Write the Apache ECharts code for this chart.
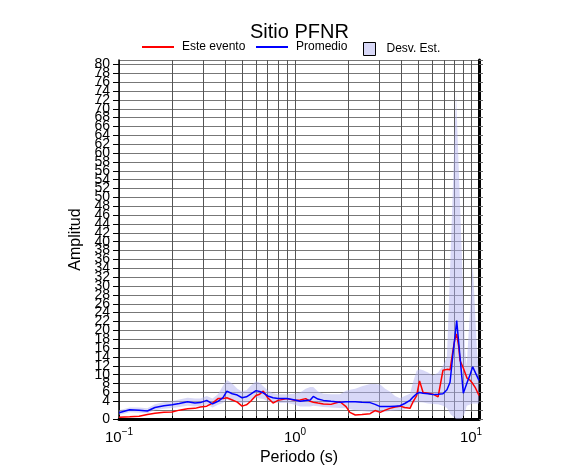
<!DOCTYPE html>
<html>
<head>
<meta charset="utf-8">
<script src="https://cdn.jsdelivr.net/npm/echarts@6/dist/echarts.min.js"></script>
<style>
  html, body { margin: 0; padding: 0; background: #fff; }
  #chart { width: 586px; height: 475px; }
</style>
</head>
<body>
<div id="chart"></div>
<script>
// periods (s) where both curves are sampled
const periods = [0.10, 0.115, 0.13, 0.145, 0.16, 0.18, 0.2, 0.22, 0.245, 0.27,
  0.29, 0.315, 0.34, 0.365, 0.39, 0.41, 0.44, 0.47, 0.5, 0.53,
  0.56, 0.6, 0.63, 0.66, 0.7, 0.75, 0.8, 0.9, 1.0, 1.07,
  1.15, 1.22, 1.27, 1.35, 1.45, 1.6, 1.8, 1.95, 2.05, 2.2,
  2.4, 2.67, 2.85, 3.05, 3.25, 3.46, 3.7, 3.95, 4.2, 4.5,
  4.7, 4.91, 5.1, 5.34, 5.7, 6.08, 6.5, 6.93, 7.3, 7.6,
  7.9, 8.1, 8.29, 8.5, 8.66, 9.04, 9.49, 9.9, 10.22, 10.6,
  11.1];

const esteEvento = [0.4, 0.5, 0.6, 1.0, 1.3, 1.5, 1.6, 2.0, 2.3, 2.4,
  2.7, 2.9, 3.6, 4.6, 4.6, 4.8, 4.3, 3.8, 2.9, 3.2,
  4.0, 5.3, 5.6, 6.3, 4.8, 3.6, 4.2, 4.6, 4.2, 4.3,
  4.6, 4.0, 3.8, 3.6, 3.4, 3.3, 3.9, 2.8, 1.5, 0.9,
  1.0, 1.2, 1.9, 1.5, 2.0, 2.4, 2.7, 2.9, 2.6, 2.4,
  4.0, 5.3, 8.6, 6.0, 5.8, 5.6, 5.0, 11.0, 11.2, 11.1,
  15.5, 18.0, 19.2, 16.5, 13.2, 11.5, 9.2, 8.7, 8.0, 7.0,
  5.3];

const promedio = [1.4, 2.1, 2.0, 1.8, 2.6, 3.0, 3.2, 3.5, 3.9, 3.6,
  3.7, 4.2, 3.4, 4.0, 4.8, 6.3, 5.7, 5.4, 4.8, 5.0,
  5.6, 6.4, 6.2, 5.9, 5.2, 4.8, 4.6, 4.6, 4.3, 4.0,
  4.2, 4.3, 5.1, 4.5, 4.2, 4.0, 3.8, 3.9, 3.9, 3.9,
  3.8, 3.7, 3.3, 2.8, 2.8, 2.8, 2.9, 3.0, 3.5, 4.2,
  5.0, 5.7, 6.0, 5.8, 5.7, 5.5, 5.6, 5.7, 6.6, 8.3,
  14.8, 18.5, 22.2, 17.5, 14.0, 5.8, 8.2, 10.1, 11.8, 10.4,
  8.7];

// standard deviation band (lower / upper edge)
const bandPeriods = [0.10, 0.115, 0.13, 0.145, 0.16, 0.18, 0.2, 0.22, 0.245, 0.27,
  0.29, 0.315, 0.34, 0.365, 0.39, 0.41, 0.44, 0.47, 0.5, 0.53,
  0.56, 0.6, 0.63, 0.66, 0.7, 0.75, 0.8, 0.9, 1.0, 1.07,
  1.15, 1.22, 1.27, 1.35, 1.45, 1.6, 1.8, 1.95, 2.05, 2.2,
  2.4, 2.67, 2.85, 3.05, 3.25, 3.46, 3.7, 3.95, 4.2, 4.5,
  4.7, 4.91, 5.1, 5.34, 5.7, 6.08, 6.5, 6.93, 7.3, 7.67,
  8.22, 8.85, 9.25, 9.45, 10.23, 10.81, 11.1];

const bandHigh = [2.0, 2.6, 2.6, 2.4, 3.3, 3.8, 4.0, 4.4, 4.8, 4.6,
  4.6, 5.2, 4.6, 5.6, 7.5, 8.8, 8.0, 6.8, 6.2, 6.5,
  7.5, 8.5, 8.2, 7.4, 6.5, 5.8, 5.6, 5.6, 5.7, 6.0,
  6.8, 7.2, 7.2, 6.2, 5.7, 5.6, 5.6, 6.4, 6.6, 6.8,
  7.4, 7.9, 7.9, 7.8, 6.8, 6.2, 5.2, 4.7, 5.2, 5.7,
  8.5, 10.9, 11.2, 11.0, 10.5, 9.8, 10.5, 12.0, 14.0, 38,
  73.5, 38, 15.5, 12, 35, 15.5, 10];

const bandLow = [0.9, 1.5, 1.4, 1.3, 2.0, 2.3, 2.5, 2.7, 3.0, 2.8,
  2.9, 3.3, 2.6, 3.2, 3.6, 4.4, 4.0, 3.9, 3.5, 3.7,
  4.2, 4.8, 4.6, 4.5, 4.0, 3.8, 3.6, 3.6, 3.2, 2.8,
  2.8, 2.8, 3.0, 2.9, 2.7, 2.6, 2.5, 2.4, 2.2, 2.0,
  1.8, 1.6, 1.5, 1.5, 1.6, 1.8, 1.9, 2.0, 2.2, 2.8,
  3.5, 3.8, 3.8, 3.7, 3.5, 3.4, 3.3, 3.0, 2.5, 1.0,
  0, 0, 1.5, 3.0, 3.5, 3.5, 3.5];

const FONT = "'Liberation Sans', Arial, Helvetica, sans-serif";
const xMin = 0.1, xMax = 11.1, yMin = 0, yMax = 81;
const bandColor = "rgba(178,178,240,0.5)";
const lineIcon = "rect";

const chart = echarts.init(document.getElementById("chart"));

const legendText = { fontFamily: FONT, fontSize: 12, color: "#000", padding: [0, 0, 0, 3] };

const option = {
  animation: false,
  backgroundColor: "#fff",
  textStyle: { fontFamily: FONT, color: "#000" },
  title: {
    text: "Sitio PFNR",
    left: 250,
    top: 22,
    padding: 0,
    textStyle: { fontFamily: FONT, fontSize: 20, fontWeight: "normal", color: "#000" },
  },
  legend: [
    {
      data: [{ name: "Este evento", icon: lineIcon }],
      left: 142, top: 41, padding: 0,
      itemWidth: 32, itemHeight: 2,
      textStyle: legendText,
      selectedMode: false,
    },
    {
      data: [{ name: "Promedio", icon: lineIcon }],
      left: 256, top: 41, padding: 0,
      itemWidth: 32, itemHeight: 2,
      textStyle: legendText,
      selectedMode: false,
    },
    {
      data: [{ name: "Desv. Est.", icon: "rect", itemStyle: { borderColor: "#000", borderWidth: 1 } }],
      left: 363, top: 42, padding: 0,
      itemWidth: 12, itemHeight: 13,
      textStyle: { fontFamily: FONT, fontSize: 12, color: "#000", padding: [0, 0, 0, 6] },
      selectedMode: false,
    },
  ],
  grid: { left: 119, right: 107, top: 60, bottom: 56, containLabel: false },
  xAxis: [
    {
      type: "log",
      logBase: 10,
      min: xMin,
      max: xMax,
      position: "bottom",
      name: "Periodo (s)",
      nameLocation: "middle",
      nameGap: 31,
      nameTextStyle: { fontFamily: FONT, fontSize: 16, color: "#000" },
      axisLine: { show: true, lineStyle: { color: "#000", width: 2 } },
      axisTick: { show: false },
      minorTick: { show: false, splitNumber: 9 },
      axisLabel: {
        margin: 8,
        formatter: (v) => {
          const e = Math.log10(v);
          if (Math.abs(e - Math.round(e)) > 1e-6) return "";
          const ex = Math.round(e);
          return "{b|10}{s|" + (ex < 0 ? "\u2212" + (-ex) : ex) + "}";
        },
        rich: {
          b: { fontFamily: FONT, fontSize: 15, color: "#000", verticalAlign: "bottom" },
          s: { fontFamily: FONT, fontSize: 10, color: "#000", verticalAlign: "top", padding: [0, 0, 8, 0] },
        },
      },
      splitLine: { show: true, lineStyle: { color: "#555", width: 1 } },
      minorSplitLine: { show: true, lineStyle: { color: "#555", width: 1 } },
    },
    {
      type: "log",
      logBase: 10,
      min: xMin,
      max: xMax,
      position: "top",
      axisLine: { show: true, lineStyle: { color: "#000", width: 3 } },
      axisTick: { show: true, inside: false, length: 7, lineStyle: { color: "#000", width: 1 } },
      minorTick: { show: true, splitNumber: 9, length: 3, lineStyle: { color: "#000", width: 1 } },
      axisLabel: { show: false },
      splitLine: { show: false },
    },
  ],
  yAxis: [
    {
      type: "value",
      min: yMin,
      max: yMax,
      interval: 2,
      position: "left",
      name: "Amplitud",
      nameLocation: "middle",
      nameGap: 30,
      nameTextStyle: { fontFamily: FONT, fontSize: 16, color: "#000" },
      axisLine: { show: true, lineStyle: { color: "#000", width: 1.5 } },
      axisTick: { show: true, inside: false, length: 6, lineStyle: { color: "#000", width: 1 } },
      axisLabel: {
        fontFamily: FONT, fontSize: 14, color: "#000", margin: 9,
        showMaxLabel: false, showMinLabel: true, hideOverlap: false, interval: 0,
      },
      splitLine: { show: true, lineStyle: { color: "#777", width: 1 } },
    },
    {
      type: "value",
      min: yMin,
      max: yMax,
      interval: 2,
      position: "right",
      alignTicks: false,
      axisLine: { show: true, lineStyle: { color: "#000", width: 3 } },
      axisTick: { show: true, inside: false, length: 4, lineStyle: { color: "#666", width: 1 } },
      axisLabel: { show: false },
      splitLine: { show: false },
    },
  ],
  series: [
    {
      name: "Desv. Est.",
      type: "custom",
      xAxisIndex: 0,
      yAxisIndex: 0,
      clip: true,
      silent: true,
      itemStyle: { color: bandColor },
      data: [[bandPeriods[0], bandLow[0]]],
      renderItem: (params, api) => {
        const pts = [];
        for (let i = 0; i < bandPeriods.length; i++) pts.push(api.coord([bandPeriods[i], bandHigh[i]]));
        for (let i = bandPeriods.length - 1; i >= 0; i--) pts.push(api.coord([bandPeriods[i], bandLow[i]]));
        return { type: "polygon", shape: { points: pts }, style: { fill: bandColor } };
      },
      z: 1,
    },
    {
      name: "Este evento",
      type: "line",
      xAxisIndex: 0,
      yAxisIndex: 0,
      symbol: "none",
      lineStyle: { color: "#ff0000", width: 1.5 },
      itemStyle: { color: "#ff0000" },
      data: periods.map((p, i) => [p, esteEvento[i]]),
      z: 3,
    },
    {
      name: "Promedio",
      type: "line",
      xAxisIndex: 0,
      yAxisIndex: 0,
      symbol: "none",
      lineStyle: { color: "#0000ff", width: 1.5 },
      itemStyle: { color: "#0000ff" },
      data: periods.map((p, i) => [p, promedio[i]]),
      z: 4,
    },
  ],
};

chart.setOption(option);
</script>
</body>
</html>
